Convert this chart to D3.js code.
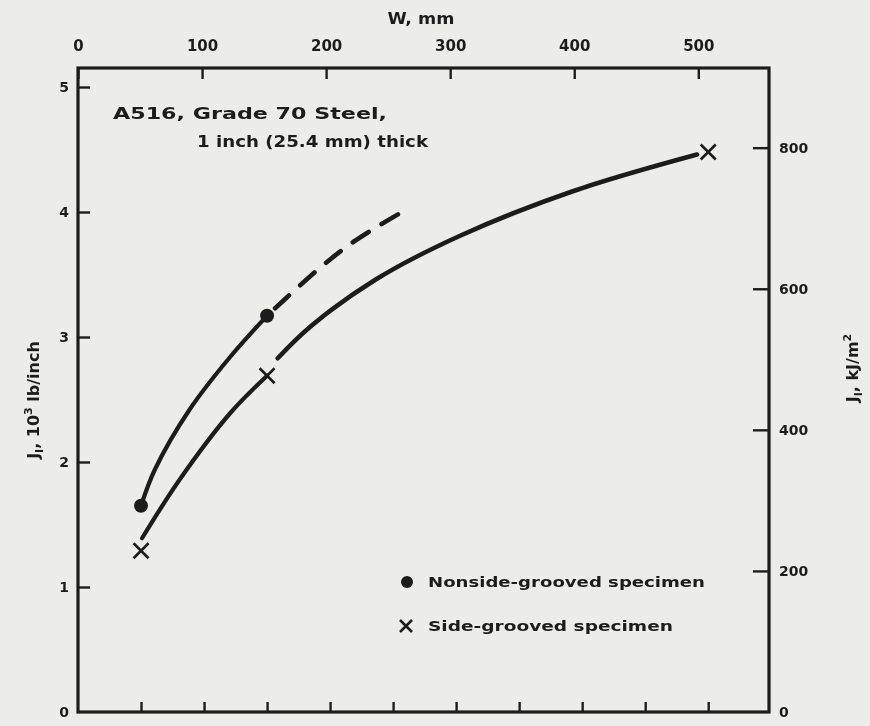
<!DOCTYPE html>
<html>
<head>
<meta charset="utf-8">
<script src="https://cdn.jsdelivr.net/npm/d3@7"></script>
<style>
  html, body { margin: 0; padding: 0; background: #ececea; }
  svg { display: block; }
  text { font-family: "DejaVu Sans", "Liberation Sans", sans-serif; font-weight: bold; fill: #1e1e1e; }
</style>
</head>
<body>
<svg id="chart" width="870" height="726"></svg>
<script>
// Axis ticks
const wTicksMm = [0, 100, 200, 300, 400, 500];
const wTicksInch = [2, 4, 6, 8, 10, 12, 14, 16, 18, 20];
const jTicks = [0, 1, 2, 3, 4, 5];
const kjTicks = [0, 200, 400, 600, 800];

// Measured specimens (W in mm, J in 10^3 lb/inch)
const nonsideW = [50.8, 152.4];
const nonsideJ = [1.65, 3.17];
const sideW = [50.8, 152.4, 508];
const sideJ = [1.29, 2.69, 4.48];

// Hand-faired trend curves
const nonsideFitW = [50.8, 62, 90, 122.6, 152.4];
const nonsideFitJ = [1.65, 1.94, 2.42, 2.84, 3.17];
const nonsideExtW = [158.9, 193.5, 221.8, 262.9];
const nonsideExtJ = [3.23, 3.54, 3.76, 4.01];
const sideFitW1 = [51.6, 82, 122.6, 152.4];
const sideFitJ1 = [1.39, 1.86, 2.39, 2.69];
const sideFitW2 = [161, 187, 240, 308, 400, 499];
const sideFitJ2 = [2.83, 3.08, 3.46, 3.81, 4.17, 4.46];

const legendItems = ["Nonside-grooved specimen", "Side-grooved specimen"];

const ink = "#1e1e1e";
const svg = d3.select("#chart");
const defs = svg.append("defs");
defs.append("filter").attr("id", "soft")
  .append("feGaussianBlur").attr("stdDeviation", 0.6);

const root = svg.append("g").attr("filter", "url(#soft)");

const plotLeft = 78, plotRight = 769, plotTop = 68, plotBottom = 712;
const x = d3.scaleLinear().domain([0, 557]).range([plotLeft, plotRight]);
const y = d3.scaleLinear().domain([0, 5]).range([plotBottom, 87]);
const yk = d3.scaleLinear().domain([0, 886]).range([plotBottom, 87]);

// Frame
root.append("rect")
  .attr("x", plotLeft).attr("y", plotTop)
  .attr("width", plotRight - plotLeft).attr("height", plotBottom - plotTop)
  .attr("fill", "none").attr("stroke", ink).attr("stroke-width", 3.2);

function styleAxis(g, size) {
  g.select(".domain").remove();
  g.selectAll(".tick line").attr("stroke", ink).attr("stroke-width", 2.4);
  g.selectAll(".tick text")
    .attr("font-size", size)
    .attr("font-family", "'DejaVu Sans', sans-serif")
    .attr("font-weight", "bold")
    .attr("fill", ink);
}

// Top axis: W in mm
root.append("g").attr("transform", `translate(0,${plotTop})`)
  .call(d3.axisTop(x).tickValues(wTicksMm).tickSizeInner(-11).tickSizeOuter(0).tickPadding(17).tickFormat(d3.format("d")))
  .call(g => styleAxis(g, 15));

// Bottom axis: inch divisions, unlabelled
root.append("g").attr("transform", `translate(0,${plotBottom})`)
  .call(d3.axisBottom(x).tickValues(wTicksInch.map(d => d * 25.4)).tickSizeInner(-10).tickSizeOuter(0).tickFormat(""))
  .call(g => styleAxis(g, 14));

// Left axis: J in 10^3 lb/inch
root.append("g").attr("transform", `translate(${plotLeft},0)`)
  .call(d3.axisLeft(y).tickValues(jTicks).tickSizeInner(-12).tickSizeOuter(0).tickPadding(9).tickFormat(d3.format("d")))
  .call(g => styleAxis(g, 14))
  .call(g => g.selectAll(".tick").filter(d => d === 0).select("line").remove());

// Right axis: J in kJ/m^2
root.append("g").attr("transform", `translate(${plotRight},0)`)
  .call(d3.axisRight(yk).tickValues(kjTicks).tickSizeInner(-16).tickSizeOuter(0).tickPadding(10).tickFormat(d3.format("d")))
  .call(g => styleAxis(g, 14))
  .call(g => g.selectAll(".tick").filter(d => d === 0).select("line").remove());

// Axis titles
root.append("text").attr("x", 421).attr("y", 24).attr("text-anchor", "middle")
  .attr("font-size", 15).attr("textLength", 67).attr("lengthAdjust", "spacingAndGlyphs")
  .text("W, mm");

const lt = root.append("text")
  .attr("transform", "translate(39,400) rotate(-90)")
  .attr("text-anchor", "middle").attr("font-size", 16);
lt.append("tspan").text("J");
lt.append("tspan").attr("font-size", 11).attr("dy", 4).text("I");
lt.append("tspan").attr("dy", -4).text(", 10");
lt.append("tspan").attr("font-size", 11).attr("dy", -7).text("3");
lt.append("tspan").attr("dy", 7).text(" lb/inch");

const rt = root.append("text")
  .attr("transform", "translate(858,368) rotate(-90)")
  .attr("text-anchor", "middle").attr("font-size", 16);
rt.append("tspan").text("J");
rt.append("tspan").attr("font-size", 11).attr("dy", 4).text("I");
rt.append("tspan").attr("dy", -4).text(", kJ/m");
rt.append("tspan").attr("font-size", 11).attr("dy", -7).text("2");

// Material note
root.append("text").attr("x", 113).attr("y", 119).attr("font-size", 15)
  .attr("textLength", 274).attr("lengthAdjust", "spacingAndGlyphs")
  .text("A516, Grade 70 Steel,");
root.append("text").attr("x", 197).attr("y", 147).attr("font-size", 15)
  .attr("textLength", 231).attr("lengthAdjust", "spacingAndGlyphs")
  .text("1 inch (25.4 mm) thick");

// Curves
const line = d3.line().x(d => x(d[0])).y(d => y(d[1])).curve(d3.curveCatmullRom.alpha(0.5));
const zip = (a, b) => a.map((v, i) => [v, b[i]]);

root.append("path").datum(zip(nonsideFitW, nonsideFitJ))
  .attr("d", line).attr("fill", "none").attr("stroke", ink)
  .attr("stroke-width", 4.2).attr("stroke-linecap", "round");
root.append("path").datum(zip(nonsideExtW, nonsideExtJ))
  .attr("d", line).attr("fill", "none").attr("stroke", ink)
  .attr("stroke-width", 4.6).attr("stroke-linecap", "round")
  .attr("stroke-dasharray", "19 15");
root.append("path").datum(zip(sideFitW1, sideFitJ1))
  .attr("d", line).attr("fill", "none").attr("stroke", ink)
  .attr("stroke-width", 4.2).attr("stroke-linecap", "round");
root.append("path").datum(zip(sideFitW2, sideFitJ2))
  .attr("d", line).attr("fill", "none").attr("stroke", ink)
  .attr("stroke-width", 4.6).attr("stroke-linecap", "round");

// Markers
function cross(g, cx, cy, s) {
  g.append("path")
    .attr("d", `M${cx - s},${cy - s}L${cx + s},${cy + s}M${cx - s},${cy + s}L${cx + s},${cy - s}`)
    .attr("stroke", ink).attr("stroke-width", 2.6).attr("fill", "none");
}
root.selectAll("circle.nonside").data(zip(nonsideW, nonsideJ)).join("circle")
  .attr("class", "nonside")
  .attr("cx", d => x(d[0])).attr("cy", d => y(d[1])).attr("r", 7).attr("fill", ink);
zip(sideW, sideJ).forEach(d => cross(root, x(d[0]), y(d[1]), 7.5));

// Legend
root.append("circle").attr("cx", 407).attr("cy", 582).attr("r", 6).attr("fill", ink);
cross(root, 406, 626, 6);
root.append("text").attr("x", 428).attr("y", 587).attr("font-size", 14)
  .attr("textLength", 277).attr("lengthAdjust", "spacingAndGlyphs").text(legendItems[0]);
root.append("text").attr("x", 428).attr("y", 631).attr("font-size", 14)
  .attr("textLength", 245).attr("lengthAdjust", "spacingAndGlyphs").text(legendItems[1]);
</script>
</body>
</html>
